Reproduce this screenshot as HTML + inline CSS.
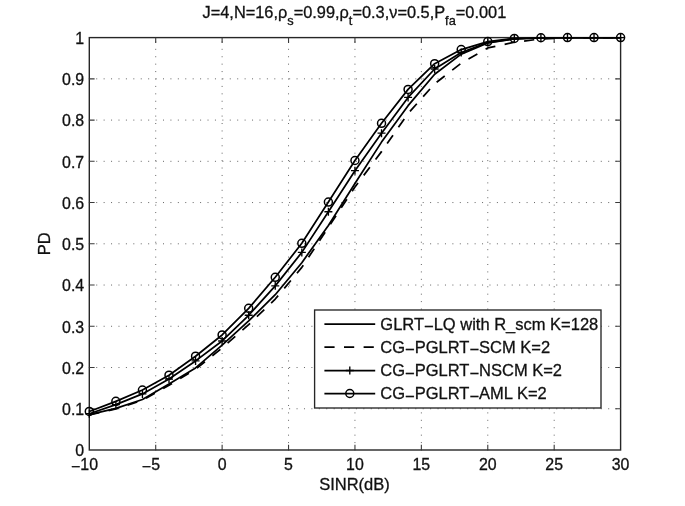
<!DOCTYPE html>
<html><head><meta charset="utf-8"><title>PD vs SINR</title>
<style>html,body{margin:0;padding:0;background:#fff}svg{display:block}text{font-family:"Liberation Sans",Arial,Helvetica,sans-serif;fill:#111;stroke:#111;stroke-width:0.3px}</style></head><body>
<svg width="685" height="506" viewBox="0 0 685 506">
<rect width="685" height="506" fill="#fff"/>
<g stroke="#666" stroke-width="1" stroke-dasharray="1 6.42" fill="none"><line x1="155.71" y1="450.50" x2="155.71" y2="37.60"/><line x1="222.12" y1="450.50" x2="222.12" y2="37.60"/><line x1="288.54" y1="450.50" x2="288.54" y2="37.60"/><line x1="354.95" y1="450.50" x2="354.95" y2="37.60"/><line x1="421.36" y1="450.50" x2="421.36" y2="37.60"/><line x1="487.78" y1="450.50" x2="487.78" y2="37.60"/><line x1="554.19" y1="450.50" x2="554.19" y2="37.60"/><line x1="88.80" y1="408.76" x2="620.60" y2="408.76"/><line x1="88.80" y1="367.52" x2="620.60" y2="367.52"/><line x1="88.80" y1="326.28" x2="620.60" y2="326.28"/><line x1="88.80" y1="285.04" x2="620.60" y2="285.04"/><line x1="88.80" y1="243.80" x2="620.60" y2="243.80"/><line x1="88.80" y1="202.56" x2="620.60" y2="202.56"/><line x1="88.80" y1="161.32" x2="620.60" y2="161.32"/><line x1="88.80" y1="120.08" x2="620.60" y2="120.08"/><line x1="88.80" y1="78.84" x2="620.60" y2="78.84"/></g>
<rect x="89.30" y="37.60" width="531.30" height="412.40" fill="none" stroke="#262626" stroke-width="1.4"/>
<path d="M155.71 450.00 v-5.30 M155.71 37.60 v5.30 M222.12 450.00 v-5.30 M222.12 37.60 v5.30 M288.54 450.00 v-5.30 M288.54 37.60 v5.30 M354.95 450.00 v-5.30 M354.95 37.60 v5.30 M421.36 450.00 v-5.30 M421.36 37.60 v5.30 M487.78 450.00 v-5.30 M487.78 37.60 v5.30 M554.19 450.00 v-5.30 M554.19 37.60 v5.30 M89.30 408.76 h5.30 M620.60 408.76 h-5.30 M89.30 367.52 h5.30 M620.60 367.52 h-5.30 M89.30 326.28 h5.30 M620.60 326.28 h-5.30 M89.30 285.04 h5.30 M620.60 285.04 h-5.30 M89.30 243.80 h5.30 M620.60 243.80 h-5.30 M89.30 202.56 h5.30 M620.60 202.56 h-5.30 M89.30 161.32 h5.30 M620.60 161.32 h-5.30 M89.30 120.08 h5.30 M620.60 120.08 h-5.30 M89.30 78.84 h5.30 M620.60 78.84 h-5.30" stroke="#3a3a3a" stroke-width="1.1" fill="none"/>
<clipPath id="ax"><rect x="89.30" y="37.60" width="531.30" height="412.40"/></clipPath>
<g fill="none" stroke="#000" stroke-width="1.75" stroke-linejoin="round" clip-path="url(#ax)">
<path d="M89.30 414.53 L115.87 408.35 L142.43 399.48 L169.00 384.02 L195.56 367.93 L222.12 345.09 L248.69 320.92 L275.25 294.69 L301.82 262.69 L328.39 225.45 L354.95 183.59 L381.52 142.10 L408.08 105.65 L434.65 74.30 L461.21 54.10 L487.78 42.84 L514.34 38.84 L540.90 37.60 L567.47 37.60 L594.03 37.60 L620.60 37.60"/>
<path d="M89.30 414.95 L115.87 408.97 L142.43 400.31 L169.00 385.25 L195.56 369.17 L222.12 348.01 L248.69 324.63 L275.25 299.06 L301.82 267.39 L328.39 227.30 L354.95 187.01 L381.52 151.63 L408.08 113.48 L434.65 83.79 L461.21 63.17 L487.78 47.91 L514.34 42.22 L540.90 38.92 L567.47 37.60 L594.03 37.60 L620.60 37.60" stroke-dasharray="10.25 9.5"/>
<path d="M89.30 413.71 L115.87 404.64 L142.43 393.91 L169.00 379.07 L195.56 360.92 L222.12 340.96 L248.69 315.27 L275.25 285.86 L301.82 252.38 L328.39 211.72 L354.95 170.68 L381.52 133.19 L408.08 97.40 L434.65 69.02 L461.21 52.49 L487.78 42.55 L514.34 38.84 L540.90 37.76 L567.47 37.60 L594.03 37.60 L620.60 37.60"/>
<path d="M89.30 411.48 L115.87 401.34 L142.43 390.00 L169.00 375.19 L195.56 356.22 L222.12 334.98 L248.69 308.34 L275.25 277.29 L301.82 243.31 L328.39 202.02 L354.95 160.50 L381.52 123.30 L408.08 89.40 L434.65 63.70 L461.21 49.60 L487.78 41.60 L514.34 38.47 L540.90 37.76 L567.47 37.60 L594.03 37.60 L620.60 37.60"/>
</g>
<path d="M85.30 413.71 h8.00 M89.30 409.71 v8.00 M111.87 404.64 h8.00 M115.87 400.64 v8.00 M138.43 393.91 h8.00 M142.43 389.91 v8.00 M165.00 379.07 h8.00 M169.00 375.07 v8.00 M191.56 360.92 h8.00 M195.56 356.92 v8.00 M218.12 340.96 h8.00 M222.12 336.96 v8.00 M244.69 315.27 h8.00 M248.69 311.27 v8.00 M271.25 285.86 h8.00 M275.25 281.86 v8.00 M297.82 252.38 h8.00 M301.82 248.38 v8.00 M324.39 211.72 h8.00 M328.39 207.72 v8.00 M350.95 170.68 h8.00 M354.95 166.68 v8.00 M377.52 133.19 h8.00 M381.52 129.19 v8.00 M404.08 97.40 h8.00 M408.08 93.40 v8.00 M430.65 69.02 h8.00 M434.65 65.02 v8.00 M457.21 52.49 h8.00 M461.21 48.49 v8.00 M483.78 42.55 h8.00 M487.78 38.55 v8.00 M510.34 38.84 h8.00 M514.34 34.84 v8.00 M536.90 37.76 h8.00 M540.90 33.76 v8.00 M563.47 37.60 h8.00 M567.47 33.60 v8.00 M590.03 37.60 h8.00 M594.03 33.60 v8.00 M616.60 37.60 h8.00 M620.60 33.60 v8.00" stroke="#000" stroke-width="1.35" fill="none"/>
<g fill="none" stroke="#000" stroke-width="1.5">
<circle cx="89.30" cy="411.48" r="4.0"/>
<circle cx="115.87" cy="401.34" r="4.0"/>
<circle cx="142.43" cy="390.00" r="4.0"/>
<circle cx="169.00" cy="375.19" r="4.0"/>
<circle cx="195.56" cy="356.22" r="4.0"/>
<circle cx="222.12" cy="334.98" r="4.0"/>
<circle cx="248.69" cy="308.34" r="4.0"/>
<circle cx="275.25" cy="277.29" r="4.0"/>
<circle cx="301.82" cy="243.31" r="4.0"/>
<circle cx="328.39" cy="202.02" r="4.0"/>
<circle cx="354.95" cy="160.50" r="4.0"/>
<circle cx="381.52" cy="123.30" r="4.0"/>
<circle cx="408.08" cy="89.40" r="4.0"/>
<circle cx="434.65" cy="63.70" r="4.0"/>
<circle cx="461.21" cy="49.60" r="4.0"/>
<circle cx="487.78" cy="41.60" r="4.0"/>
<circle cx="514.34" cy="38.47" r="4.0"/>
<circle cx="540.90" cy="37.76" r="4.0"/>
<circle cx="567.47" cy="37.60" r="4.0"/>
<circle cx="594.03" cy="37.60" r="4.0"/>
<circle cx="620.60" cy="37.60" r="4.0"/>
</g>
<g font-size="15.9" text-anchor="middle">
<text x="84.50" y="469.7"><tspan dy="2.3">−</tspan><tspan dy="-2.3">10</tspan></text>
<text x="150.91" y="469.7"><tspan dy="2.3">−</tspan><tspan dy="-2.3">5</tspan></text>
<text x="222.12" y="469.7">0</text>
<text x="288.54" y="469.7">5</text>
<text x="354.95" y="469.7">10</text>
<text x="421.36" y="469.7">15</text>
<text x="487.78" y="469.7">20</text>
<text x="554.19" y="469.7">25</text>
<text x="620.60" y="469.7">30</text>
</g>
<g font-size="15.9" text-anchor="end">
<text x="84.2" y="456.30">0</text>
<text x="84.2" y="415.06">0.1</text>
<text x="84.2" y="373.82">0.2</text>
<text x="84.2" y="332.58">0.3</text>
<text x="84.2" y="291.34">0.4</text>
<text x="84.2" y="250.10">0.5</text>
<text x="84.2" y="208.86">0.6</text>
<text x="84.2" y="167.62">0.7</text>
<text x="84.2" y="126.38">0.8</text>
<text x="84.2" y="85.14">0.9</text>
<text x="84.2" y="43.90">1</text>
</g>
<text x="354.5" y="489.9" font-size="16.5" text-anchor="middle">SINR(dB)</text>
<text transform="translate(50.3 243.9) rotate(-90)" font-size="16.5" text-anchor="middle">PD</text>
<text x="354.4" y="17.6" font-size="16.35" text-anchor="middle">J=4,N=16,ρ<tspan font-size="12.8" dy="7.4">s</tspan><tspan dy="-7.4">=0.99,ρ</tspan><tspan font-size="12.8" dy="7.4">t</tspan><tspan dy="-7.4">=0.3,ν=0.5,P</tspan><tspan font-size="12.8" dy="7.4">fa</tspan><tspan dy="-7.4">=0.001</tspan></text>
<rect x="314.6" y="310.0" width="286.4" height="98.0" fill="#fff" stroke="#262626" stroke-width="1.35"/>
<g fill="none" stroke="#000" stroke-width="1.75">
<path d="M324.4 324.1 H375.2"/>
<path d="M324.4 347.2 H375.2" stroke-dasharray="10.2 9.4"/>
<path d="M324.4 370.5 H375.2"/>
<path d="M324.4 393.5 H375.2"/>
</g>
<path d="M345.80 370.50 h8.00 M349.80 366.50 v8.00" stroke="#000" stroke-width="1.35" fill="none"/>
<circle cx="349.80" cy="393.50" r="4.0" fill="none" stroke="#000" stroke-width="1.5"/>
<g font-size="16.5">
<text x="380.3" y="329.80">GLRT<tspan dy="2.3">−</tspan><tspan dy="-2.3">LQ with R_scm K=128</tspan></text>
<text x="380.3" y="352.90">CG<tspan dy="2.3">−</tspan><tspan dy="-2.3">PGLRT</tspan><tspan dy="2.3">−</tspan><tspan dy="-2.3">SCM K=2</tspan></text>
<text x="380.3" y="376.20">CG<tspan dy="2.3">−</tspan><tspan dy="-2.3">PGLRT</tspan><tspan dy="2.3">−</tspan><tspan dy="-2.3">NSCM K=2</tspan></text>
<text x="380.3" y="399.20">CG<tspan dy="2.3">−</tspan><tspan dy="-2.3">PGLRT</tspan><tspan dy="2.3">−</tspan><tspan dy="-2.3">AML K=2</tspan></text>
</g>
</svg></body></html>
